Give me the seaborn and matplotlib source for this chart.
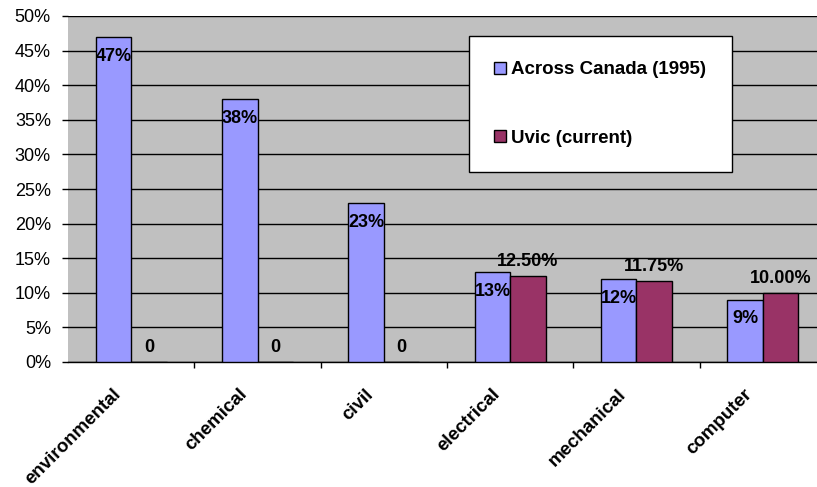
import matplotlib
matplotlib.use('Agg')
import matplotlib.pyplot as plt
from matplotlib.ticker import PercentFormatter, FixedLocator
from matplotlib.transforms import ScaledTranslation
import seaborn as sns
import pandas as pd

# values
disciplines = ['environmental', 'chemical', 'civil', 'electrical', 'mechanical', 'computer']
canada_1995 = [0.47, 0.38, 0.23, 0.13, 0.12, 0.09]
uvic_current = [0.0, 0.0, 0.0, 0.125, 0.1175, 0.10]
canada_labels = ['47%', '38%', '23%', '13%', '12%', '9%']
uvic_labels = ['0', '0', '0', '12.50%', '11.75%', '10.00%']
series_names = ['Across Canada (1995)', 'Uvic (current)']

data = pd.DataFrame({
    'discipline': disciplines * 2,
    'share': canada_1995 + uvic_current,
    'series': [series_names[0]] * len(disciplines) + [series_names[1]] * len(disciplines),
})

sns.set_style('white')
plt.rcParams['font.family'] = ['Liberation Sans', 'DejaVu Sans']
plt.rcParams['text.color'] = 'black'
plt.rcParams['xtick.color'] = 'black'
plt.rcParams['ytick.color'] = 'black'
plt.rcParams['xtick.labelcolor'] = 'black'
plt.rcParams['ytick.labelcolor'] = 'black'

fig = plt.figure(figsize=(8.17, 4.87), dpi=100)
ax = fig.add_axes([68 / 817, 125 / 487, 758 / 817, 346 / 487])
ax.set_facecolor('#C0C0C0')

sns.barplot(data=data, x='discipline', y='share', hue='series',
            order=disciplines, hue_order=series_names,
            palette=['#9999FF', '#993366'], width=0.56, gap=0,
            edgecolor='black', linewidth=1, saturation=1,
            errorbar=None, legend=False, ax=ax, zorder=3)

ax.set_ylim(0, 0.5)
ax.yaxis.set_major_locator(FixedLocator([i * 0.05 for i in range(11)]))
ax.yaxis.set_major_formatter(PercentFormatter(1.0, decimals=0))
ax.grid(axis='y', color='black', linewidth=1, zorder=0)
ax.set_axisbelow(True)
ax.set_xlabel('')
ax.set_ylabel('')

for side in ['top', 'right', 'left']:
    ax.spines[side].set_visible(False)
ax.spines['bottom'].set_color('black')
ax.spines['bottom'].set_linewidth(1)

ax.tick_params(axis='y', left=True, length=4.3, width=1, color='black',
               pad=8, labelsize=13)
ax.tick_params(axis='x', which='major', length=0, pad=17)
ax.set_xticks([i + 0.5 for i in range(len(disciplines) - 1)], minor=True)
ax.tick_params(axis='x', which='minor', bottom=True, length=4.3, width=1, color='black')

shift = ScaledTranslation(-7 / 100, 0, fig.dpi_scale_trans)
for lab in ax.get_xticklabels():
    lab.set_rotation(45)
    lab.set_ha('right')
    lab.set_fontsize(13.5)
    lab.set_fontweight('bold')
    lab.set_transform(lab.get_transform() + shift)

ax.bar_label(ax.containers[0], labels=canada_labels, padding=-20,
             fontsize=13, fontweight='bold')
ax.bar_label(ax.containers[1], labels=uvic_labels, padding=4,
             fontsize=13, fontweight='bold')

handles = [ax.containers[0][0], ax.containers[1][0]]
leg = ax.legend(handles, series_names, loc='upper left',
                bbox_to_anchor=(469 / 817, 1 - 36 / 487),
                bbox_transform=fig.transFigure, borderaxespad=0,
                frameon=True, fancybox=False, framealpha=1,
                edgecolor='black', facecolor='white',
                prop={'size': 13.5, 'weight': 'bold'},
                handlelength=0.6, handleheight=0.6, handletextpad=0.3,
                labelspacing=2.75, borderpad=1.35)
leg.get_frame().set_linewidth(1)
leg.set_zorder(5)

fig.savefig('out.png', dpi=100)
